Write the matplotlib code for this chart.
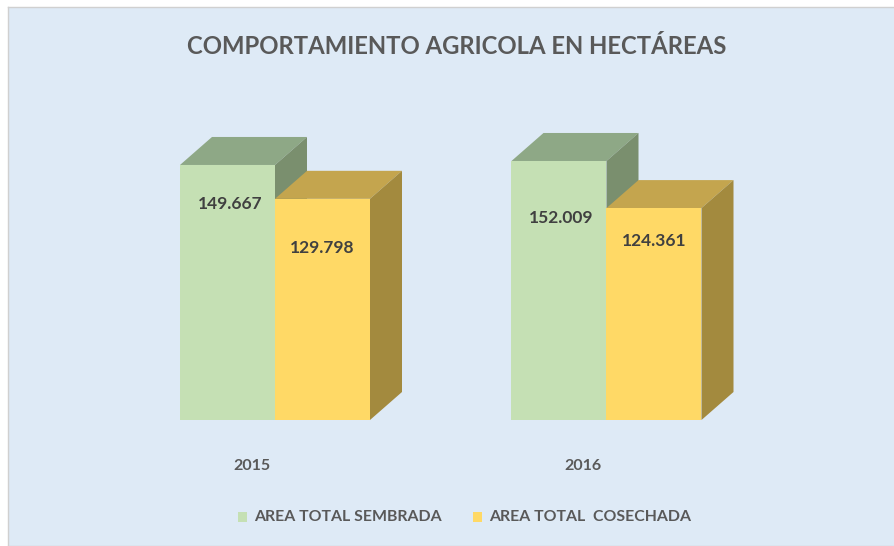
import matplotlib
matplotlib.use("Agg")
import matplotlib.pyplot as plt
from matplotlib.patches import Polygon, Rectangle

# data
years = ["2015", "2016"]
sembrada = [149667, 152009]
cosechada = [129798, 124361]
series_names = ["AREA TOTAL SEMBRADA", "AREA TOTAL  COSECHADA"]
sembrada_labels = ["149.667", "152.009"]
cosechada_labels = ["129.798", "124.361"]

# label drop below the bar top, in pixels (layout only)
sembrada_label_drop = [39, 57]
cosechada_label_drop = [49, 33]

# colours: front, top, side
GREEN = ("#C5E0B4", "#8EA886", "#7A8F6E")
YELLOW = ("#FFD966", "#C4A54E", "#A38A3E")
BG = "#DEEAF6"
TXT = "#595959"

W, H = 895, 546
PX_PER_UNIT = 0.001704   # vertical pixels per hectare
Y0_PX = 420              # pixel row of the zero line
X0_PX, STEP_PX = 275, 331.5
LEFT_PX, TOP_PX = 8, 7
BAR_W = 95 / STEP_PX
DX = 32 / STEP_PX
DY = 28 / PX_PER_UNIT

fig = plt.figure(figsize=(W / 100, H / 100), dpi=100, facecolor="white")

ax = fig.add_axes([LEFT_PX / W, 0, 1 - LEFT_PX / W, 1 - TOP_PX / H])
ax.set_facecolor(BG)
ax.set_xlim((LEFT_PX - X0_PX) / STEP_PX, (W - X0_PX) / STEP_PX)
ax.set_ylim((Y0_PX - H) / PX_PER_UNIT, (Y0_PX - TOP_PX) / PX_PER_UNIT)
ax.set_xticks([])
ax.set_yticks([])
for s in ax.spines.values():
    s.set_color("#D0D0D0")
    s.set_linewidth(1.0)


def bar3d(x_left, value, colors, z):
    front, top, side = colors
    x_right = x_left + BAR_W
    ax.add_patch(Polygon([(x_left, value), (x_right, value), (x_right + DX, value + DY),
                          (x_left + DX, value + DY)],
                         closed=True, facecolor=top, edgecolor="none", zorder=z))
    ax.add_patch(Polygon([(x_right, 0), (x_right + DX, DY), (x_right + DX, value + DY),
                          (x_right, value)],
                         closed=True, facecolor=side, edgecolor="none", zorder=z))
    ax.add_patch(Polygon([(x_left, 0), (x_right, 0), (x_right, value), (x_left, value)],
                         closed=True, facecolor=front, edgecolor="none", zorder=z + 0.1))


for i in range(len(years)):
    # green first, yellow on top so it hides the green bar's side
    bar3d(i - BAR_W, sembrada[i], GREEN, 2)
    bar3d(i, cosechada[i], YELLOW, 3)
    ax.text(i - BAR_W / 2 + 0.008, sembrada[i] - sembrada_label_drop[i] / PX_PER_UNIT,
            sembrada_labels[i], ha="center", va="center",
            fontsize=12.5, fontweight="bold", color="#404040", family="Lato", zorder=5)
    ax.text(i + BAR_W / 2, cosechada[i] - cosechada_label_drop[i] / PX_PER_UNIT,
            cosechada_labels[i], ha="center", va="center",
            fontsize=12.5, fontweight="bold", color="#404040", family="Lato", zorder=5)
    ax.text(i - 0.07, -27000, years[i], ha="center", va="center",
            fontsize=11.5, fontweight="bold", color=TXT, family="Lato")

fig.text(457 / W, 1 - 47 / H, "COMPORTAMIENTO AGRICOLA EN HECTÁREAS", ha="center", va="center",
         fontsize=17.2, fontweight="bold", color=TXT, family="Lato")

# legend
fig.patches.append(Rectangle((238 / W, 1 - 522 / H), 9 / W, 10 / H, transform=fig.transFigure,
                             facecolor=GREEN[0], edgecolor="none"))
fig.text(254 / W, 1 - 517 / H, series_names[0], ha="left", va="center",
         fontsize=11.4, fontweight="bold", color=TXT, family="Lato")
fig.patches.append(Rectangle((473 / W, 1 - 522 / H), 9 / W, 10 / H, transform=fig.transFigure,
                             facecolor=YELLOW[0], edgecolor="none"))
fig.text(489 / W, 1 - 517 / H, series_names[1], ha="left", va="center",
         fontsize=11.4, fontweight="bold", color=TXT, family="Lato")

fig.savefig("out.png", dpi=100, facecolor="white")
